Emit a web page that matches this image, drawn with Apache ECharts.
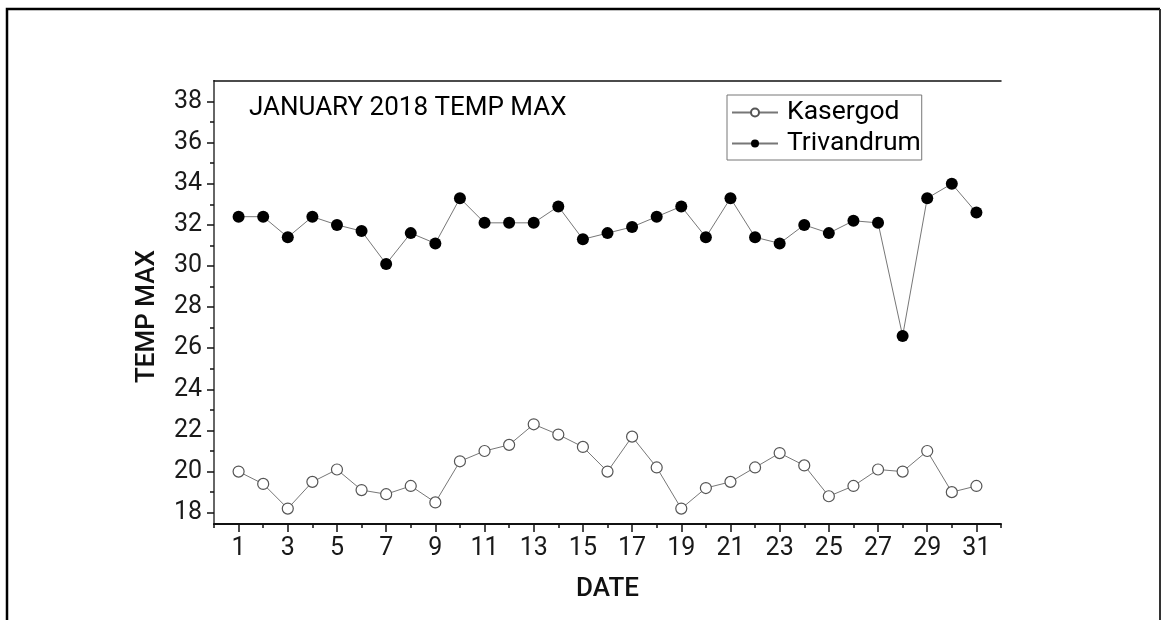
<!DOCTYPE html>
<html>
<head>
<meta charset="utf-8">
<script src="https://cdn.jsdelivr.net/npm/echarts@6/dist/echarts.min.js"></script>
<style>
html,body{margin:0;padding:0;background:#fff;}
#chart{width:1163px;height:620px;}
</style>
</head>
<body>
<div id="chart"></div>
<script>
const dates = [1,2,3,4,5,6,7,8,9,10,11,12,13,14,15,16,17,18,19,20,21,22,23,24,25,26,27,28,29,30,31];
const kasergod = [20.0,19.4,18.2,19.5,20.1,19.1,18.9,19.3,18.5,20.5,21.0,21.3,22.3,21.8,21.2,20.0,21.7,20.2,18.2,19.2,19.5,20.2,20.9,20.3,18.8,19.3,20.1,20.0,21.0,19.0,19.3];
const trivandrum = [32.4,32.4,31.4,32.4,32.0,31.7,30.1,31.6,31.1,33.3,32.1,32.1,32.1,32.9,31.3,31.6,31.9,32.4,32.9,31.4,33.3,31.4,31.1,32.0,31.6,32.2,32.1,26.6,33.3,34.0,32.6];
const seriesNames = ['Kasergod','Trivandrum'];
const titleText = 'JANUARY 2018 TEMP MAX';
const xName = 'DATE';
const yName = 'TEMP MAX';
const xRange = [0, 32];
const yRange = [17.45, 39];
const yTickRange = [18, 38];
const xTickRange = [1, 31];

const FONT = 'Roboto';
const chart = echarts.init(document.getElementById('chart'), null, {renderer:'canvas'});

// plot frame geometry
const G = {left:214, right:162, top:81, bottom:96};
const W = 1163 - G.left - G.right, H = 620 - G.top - G.bottom;
const pxY = H / (yRange[1] - yRange[0]);
const pxX = W / (xRange[1] - xRange[0]);

const option = {
  animation:false,
  backgroundColor:'#fff',
  title:{text:titleText, left:249, top:95, padding:0,
    textStyle:{fontFamily:FONT, fontSize:26, fontWeight:'normal', color:'#000'}},
  legend:{
    orient:'vertical', left:727, top:95, padding:[4,1,3,4], itemGap:4,
    borderColor:'#777', borderWidth:1,
    itemWidth:46, itemHeight:10,
    textStyle:{fontFamily:FONT, fontSize:26.5, color:'#000', lineHeight:26, padding:[0,0,0,4]},
    data:seriesNames
  },
  graphic:[
    {type:'polyline', shape:{points:[[7,640],[7,9],[1160,9]]}, style:{stroke:'#000', lineWidth:2.5, fill:null}, silent:true},
    {type:'polyline', shape:{points:[[1160,9],[1160,640]]}, style:{stroke:'#333', lineWidth:2, fill:null}, silent:true}
  ],
  grid:[
    {left:G.left, right:G.right, top:G.top, bottom:G.bottom},
    {left:G.left, right:G.right, top:G.top + (yRange[1]-yTickRange[1])*pxY, bottom:G.bottom + (yTickRange[0]-yRange[0])*pxY},
    {left:G.left + (xTickRange[0]-xRange[0])*pxX, right:G.right + (xRange[1]-xTickRange[1])*pxX, top:G.top, bottom:G.bottom}
  ],
  xAxis:[
    {gridIndex:0, type:'value', min:xRange[0], max:xRange[1], interval:2, position:'bottom',
      axisLine:{lineStyle:{color:'#111', width:2}},
      axisTick:{length:4, lineStyle:{color:'#111', width:1.5}},
      axisLabel:{show:false}, splitLine:{show:false},
      name:xName, nameLocation:'middle', nameGap:52,
      nameTextStyle:{fontFamily:FONT, fontSize:26, fontWeight:500, color:'#111'}},
    {gridIndex:0, type:'value', min:xRange[0], max:xRange[1], position:'top',
      axisLine:{lineStyle:{color:'#111', width:1.5}}, axisTick:{show:false}, axisLabel:{show:false}, splitLine:{show:false}},
    {gridIndex:1, type:'value', show:false, min:xRange[0], max:xRange[1]},
    {gridIndex:2, type:'value', min:xTickRange[0], max:xTickRange[1], interval:2, position:'bottom',
      axisLine:{show:false},
      axisTick:{length:8, lineStyle:{color:'#111', width:1.5}},
      axisLabel:{fontFamily:FONT, fontSize:25, color:'#1a1a1a', margin:12, showMinLabel:true, showMaxLabel:true},
      splitLine:{show:false}}
  ],
  yAxis:[
    {gridIndex:0, type:'value', min:yRange[0], max:yRange[1], position:'left',
      axisLine:{lineStyle:{color:'#111', width:2}}, axisTick:{show:false}, axisLabel:{show:false}, splitLine:{show:false},
      name:yName, nameLocation:'middle', nameGap:54, nameRotate:90,
      nameTextStyle:{fontFamily:FONT, fontSize:26, fontWeight:500, color:'#111', padding:[0,28,0,0]}},
    {gridIndex:0, type:'value', min:yRange[0], max:yRange[1], position:'right',
      axisLine:{lineStyle:{color:'#666', width:2}}, axisTick:{show:false}, axisLabel:{show:false}, splitLine:{show:false}},
    {gridIndex:1, type:'value', min:yTickRange[0], max:yTickRange[1], interval:2, position:'left',
      axisLine:{show:false},
      axisTick:{length:7, lineStyle:{color:'#111', width:1.5}},
      minorTick:{show:true, splitNumber:2, length:4, lineStyle:{color:'#111', width:1.5}},
      axisLabel:{fontFamily:FONT, fontSize:25, color:'#1a1a1a', margin:12, showMinLabel:true, showMaxLabel:true},
      splitLine:{show:false}},
    {gridIndex:2, type:'value', show:false, min:yRange[0], max:yRange[1]}
  ],
  series:[
    {name:seriesNames[0], type:'line', xAxisIndex:0, yAxisIndex:0,
      data:dates.map((d,i)=>[d, kasergod[i]]),
      symbol:'circle', symbolSize:11,
      lineStyle:{color:'#777', width:1},
      itemStyle:{color:'#fff', borderColor:'#555', borderWidth:1.2}},
    {name:seriesNames[1], type:'line', xAxisIndex:0, yAxisIndex:0,
      data:dates.map((d,i)=>[d, trivandrum[i]]),
      symbol:'circle', symbolSize:12,
      lineStyle:{color:'#777', width:1},
      itemStyle:{color:'#000', borderColor:'#000', borderWidth:0}}
  ]
};
chart.setOption(option);
</script>
</body>
</html>
